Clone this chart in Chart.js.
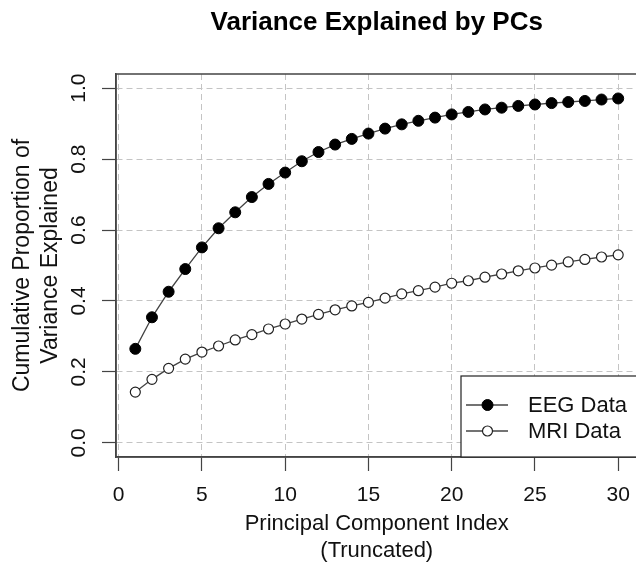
<!DOCTYPE html>
<html>
<head>
<meta charset="utf-8">
<script src="https://cdn.jsdelivr.net/npm/chart.js@4.4.1/dist/chart.umd.min.js"></script>
<style>
  html, body { margin: 0; padding: 0; background: #fff; overflow: hidden; }
  #wrap { width: 636px; height: 569px; overflow: hidden; }
</style>
</head>
<body>
<div id="wrap"><canvas id="pcChart" width="644" height="569"></canvas></div>
<script>
// Principal component index (truncated to 30)
const pcIndex = [1, 2, 3, 4, 5, 6, 7, 8, 9, 10, 11, 12, 13, 14, 15,
                 16, 17, 18, 19, 20, 21, 22, 23, 24, 25, 26, 27, 28, 29, 30];

// Cumulative proportion of variance explained
const eegCumVar = [0.265, 0.354, 0.426, 0.490, 0.551, 0.605, 0.650, 0.693, 0.730, 0.762,
                   0.794, 0.820, 0.841, 0.857, 0.872, 0.886, 0.898, 0.908, 0.917, 0.926,
                   0.933, 0.940, 0.945, 0.950, 0.954, 0.958, 0.961, 0.964, 0.968, 0.971];
const mriCumVar = [0.143, 0.179, 0.210, 0.236, 0.256, 0.273, 0.290, 0.305, 0.321, 0.335,
                   0.349, 0.362, 0.375, 0.386, 0.396, 0.408, 0.420, 0.429, 0.439, 0.450,
                   0.457, 0.467, 0.476, 0.485, 0.493, 0.501, 0.510, 0.517, 0.524, 0.530];

// Tick labels
const xTicks = [0, 5, 10, 15, 20, 25, 30];
const yTicks = [0.0, 0.2, 0.4, 0.6, 0.8, 1.0];

const FONT = "'Liberation Sans', Arial, Helvetica, sans-serif";
Chart.defaults.font.family = FONT;
Chart.defaults.color = '#111';

const toPoints = vals => vals.map((v, i) => ({ x: pcIndex[i], y: v }));

// box, legend and title drawn the R way
const rStylePlugin = {
  id: 'rStyle',
  afterDraw(chart) {
    const { ctx, chartArea: a } = chart;
    ctx.save();
    // plot box (top + right)
    ctx.strokeStyle = '#444';
    ctx.lineWidth = 1.5;
    ctx.strokeRect(a.left, a.top, a.right - a.left, a.bottom - a.top);

    // title
    ctx.fillStyle = '#000';
    ctx.font = 'bold 26px ' + FONT;
    ctx.textAlign = 'center';
    ctx.textBaseline = 'middle';
    ctx.fillText('Variance Explained by PCs', (a.left + a.right) / 2, 23);

    // legend, bottom right
    const lx = 461, ly = 376;
    ctx.fillStyle = '#fff';
    ctx.fillRect(lx, ly, a.right - lx, a.bottom - ly);
    ctx.strokeStyle = '#222';
    ctx.lineWidth = 1.2;
    ctx.strokeRect(lx, ly, a.right - lx, a.bottom - ly);
    ctx.font = '22px ' + FONT;
    ctx.textAlign = 'left';
    chart.data.datasets.forEach((ds, i) => {
      const y = 405 + i * 26;
      ctx.strokeStyle = ds.borderColor;
      ctx.lineWidth = ds.borderWidth;
      ctx.beginPath();
      ctx.moveTo(466, y);
      ctx.lineTo(508, y);
      ctx.stroke();
      ctx.beginPath();
      ctx.arc(487.5, y, ds.pointRadius, 0, Math.PI * 2);
      ctx.fillStyle = ds.pointBackgroundColor;
      ctx.fill();
      ctx.strokeStyle = ds.pointBorderColor;
      ctx.lineWidth = ds.pointBorderWidth;
      ctx.stroke();
      ctx.fillStyle = '#111';
      ctx.fillText(ds.label, 528, y + 1);
    });
    ctx.restore();
  }
};

new Chart(document.getElementById('pcChart').getContext('2d'), {
  type: 'line',
  data: {
    datasets: [{
      label: 'EEG Data',
      data: toPoints(eegCumVar),
      borderColor: '#444',
      borderWidth: 1.3,
      pointRadius: 5.5,
      pointBackgroundColor: '#000',
      pointBorderColor: '#000',
      pointBorderWidth: 1,
      tension: 0
    }, {
      label: 'MRI Data',
      data: toPoints(mriCumVar),
      borderColor: '#444',
      borderWidth: 1.3,
      pointRadius: 5,
      pointBackgroundColor: '#fff',
      pointBorderColor: '#222',
      pointBorderWidth: 1.2,
      tension: 0
    }]
  },
  options: {
    responsive: false,
    animation: false,
    devicePixelRatio: 1,
    layout: { padding: { top: 74, right: 4, left: 0, bottom: 0 } },
    plugins: {
      legend: { display: false },
      title: { display: false },
      tooltip: { enabled: false }
    },
    scales: {
      x: {
        type: 'linear',
        min: -0.16,
        max: 31.16,
        afterBuildTicks: s => { s.ticks = xTicks.map(v => ({ value: v })); },
        afterFit: s => { s.height = 112; },
        grid: { color: '#c4c4c4', lineWidth: 1, tickLength: 14, tickColor: '#444', tickWidth: 1.2 },
        border: { display: true, color: '#444', width: 1.5, dash: [6, 4] },
        ticks: { font: { size: 21 }, padding: 12, maxRotation: 0, autoSkip: false },
        title: {
          display: true,
          text: ['Principal Component Index', '(Truncated)'],
          font: { size: 22 },
          padding: { top: 0, bottom: 5 }
        }
      },
      y: {
        min: -0.04,
        max: 1.04,
        afterBuildTicks: s => { s.ticks = yTicks.map(v => ({ value: v })); },
        afterFit: s => { s.width = 116; },
        grid: { color: '#c4c4c4', lineWidth: 1, tickLength: 14, tickColor: '#444', tickWidth: 1.2 },
        border: { display: true, color: '#444', width: 1.5, dash: [6, 4] },
        ticks: {
          font: { size: 21 },
          minRotation: 90,
          maxRotation: 90,
          crossAlign: 'center',
          padding: 8,
          callback: v => v.toFixed(1)
        },
        title: {
          display: true,
          text: ['Cumulative Proportion of', 'Variance Explained'],
          font: { size: 23 },
          padding: { top: 9, bottom: 0 }
        }
      }
    }
  },
  plugins: [rStylePlugin]
});
</script>
</body>
</html>
